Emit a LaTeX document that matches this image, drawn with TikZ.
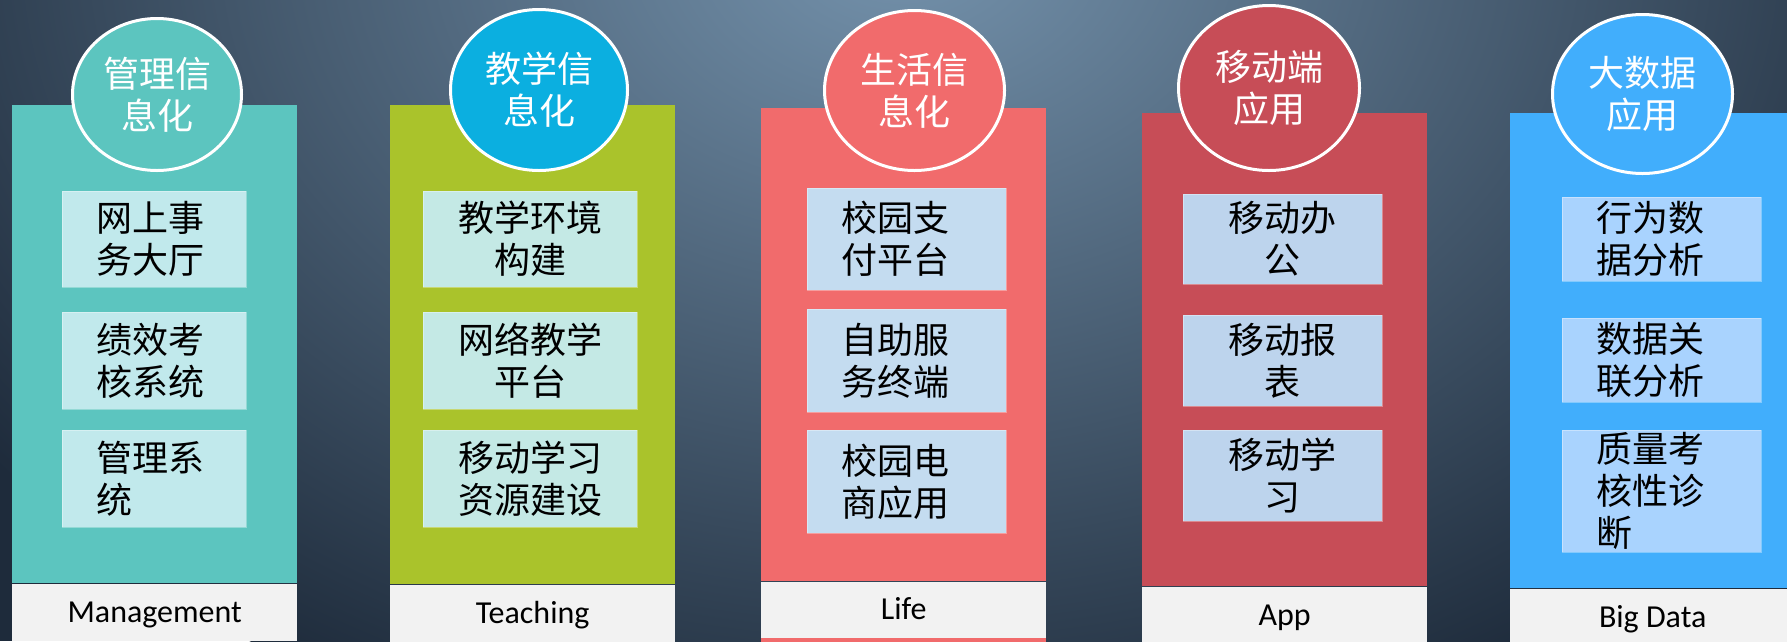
\documentclass[tikz,border=0pt]{standalone}
\usepackage{fontspec}
\setmainfont{Carlito}
\newfontfamily\cjk{Noto Sans CJK SC}
\usetikzlibrary{
    shapes.geometric, % ellipse for the round headings
    positioning       % tags placed below the columns
}
\newcommand{\px}{1pt}
% colours of the slide
\definecolor{bgdark}{HTML}{1E2B3B}
\definecolor{bglight}{HTML}{7593AD}
\definecolor{tagbg}{HTML}{F2F2F2}
\definecolor{mgmtteal}{HTML}{5CC5BF}
\definecolor{mgmtbox}{HTML}{C1E9EC}
\definecolor{teachgreen}{HTML}{AAC32B}
\definecolor{teachblue}{HTML}{0BAFE0}
\definecolor{teachbox}{HTML}{C4E9E5}
\definecolor{lifesalmon}{HTML}{F16B6C}
\definecolor{lifebox}{HTML}{C4DCF0}
\definecolor{appred}{HTML}{C74D57}
\definecolor{appbox}{HTML}{BDD4ED}
\definecolor{datablue}{HTML}{41AEFC}
\definecolor{databox}{HTML}{A9D3FE}
\tikzset{
    column/.style={anchor=north west, minimum width=285pt, inner sep=0pt},
    badge/.style={
        ellipse, draw=white, line width=3pt,
        minimum width=177pt, minimum height=160pt,
        inner sep=0pt, align=center, text=white,
        font=\cjk\fontsize{36}{42}\selectfont
    },
    item/.style={
        minimum width=199pt, inner sep=0pt, align=center,
        draw=white, draw opacity=0.35, line width=1pt,
        font=\cjk\fontsize{36}{42}\selectfont
    },
    item left/.style={item, align=left, text width=#1},
    tag/.style={
        minimum width=285pt, minimum height=57pt, inner sep=0pt,
        fill=tagbg, text height=30pt, text depth=10pt,
        font=\fontsize{32}{38}\selectfont
    }
}

\begin{document}
\begin{tikzpicture}[x=\px, y=-\px]
    \useasboundingbox (0,0) rectangle (1787,641);
    \clip (0,0) rectangle (1787,641);
    % background
    \fill[bgdark] (0,0) rectangle (1787,641);
    \shade[inner color=bglight, outer color=bgdark] (900,-60) ellipse (1150 and 850);

    % column 1: management
    \node[column, fill=mgmtteal, minimum height=478pt] (mgmt) at (12,105) {};
    \node[tag, below=0pt of mgmt] (mgmt-tag) {Management};
    \node[badge, fill=mgmtteal, minimum width=169pt, minimum height=152pt] (mgmt-badge) at (157,94.5) {管理信\\息化};
    \node[item left=116pt, fill=mgmtbox, minimum width=184pt, minimum height=96pt] (mgmt-1) at (154,239) {网上事\\务大厅};
    \node[item left=116pt, fill=mgmtbox, minimum width=184pt, minimum height=97pt] (mgmt-2) at (154,360.5) {绩效考\\核系统};
    \node[item left=116pt, fill=mgmtbox, minimum width=184pt, minimum height=97pt] (mgmt-3) at (154,478.5) {管理系\\统};

    % column 2: teaching
    \node[column, fill=teachgreen, minimum height=479pt] (teach) at (390,105) {};
    \node[tag, below=0pt of teach] (teach-tag) {Teaching};
    \node[badge, fill=teachblue, minimum width=177pt, minimum height=161pt] (teach-badge) at (539,90) {教学信\\息化};
    \node[item, fill=teachbox, minimum width=214pt, minimum height=96pt] (teach-1) at (530,239) {教学环境\\构建};
    \node[item, fill=teachbox, minimum width=214pt, minimum height=97pt] (teach-2) at (530,360.5) {网络教学\\平台};
    \node[item, fill=teachbox, minimum width=214pt, minimum height=97pt] (teach-3) at (530,478.5) {移动学习\\资源建设};

    % column 3: life
    \node[column, fill=lifesalmon, minimum height=473pt] (life) at (761,108) {};
    \node[tag, below=0pt of life, minimum height=56pt] (life-tag) {Life};
    \fill[lifesalmon] (life-tag.south west) rectangle ++(285,4);
    \node[badge, fill=lifesalmon, minimum width=180pt, minimum height=160pt] (life-badge) at (914.5,90.5) {生活信\\息化};
    \node[item left=131pt, fill=lifebox, minimum height=102pt] (life-1) at (906.5,239) {校园支\\付平台};
    \node[item left=131pt, fill=lifebox, minimum height=103pt] (life-2) at (906.5,360.5) {自助服\\务终端};
    \node[item left=131pt, fill=lifebox, minimum height=103pt] (life-3) at (906.5,481.5) {校园电\\商应用};

    % column 4: app
    \node[column, fill=appred, minimum height=473pt] (app) at (1142,113) {};
    \node[tag, below=0pt of app] (app-tag) {App};
    \node[badge, fill=appred, minimum width=181pt, minimum height=165pt] (app-badge) at (1269,88) {移动端\\应用};
    \node[item, fill=appbox, minimum height=90pt] (app-1) at (1282.5,239) {移动办\\公};
    \node[item, fill=appbox, minimum height=91pt] (app-2) at (1282.5,360.5) {移动报\\表};
    \node[item, fill=appbox, minimum height=91pt] (app-3) at (1282.5,475.5) {移动学\\习};

    % column 5: big data
    \node[column, fill=datablue, minimum height=475pt] (data) at (1510,113) {};
    \node[tag, below=0pt of data] (data-tag) {Big Data};
    \node[badge, fill=datablue, minimum width=180pt, minimum height=159pt] (data-badge) at (1642.5,94) {大数据\\应用};
    \node[item left=131pt, fill=databox, minimum height=84pt] (data-1) at (1661.5,239) {行为数\\据分析};
    \node[item left=131pt, fill=databox, minimum height=84pt] (data-2) at (1661.5,360) {数据关\\联分析};
    \node[item left=131pt, fill=databox, minimum height=122pt] (data-3) at (1661.5,491) {质量考\\核性诊\\断};
\end{tikzpicture}
\end{document}
